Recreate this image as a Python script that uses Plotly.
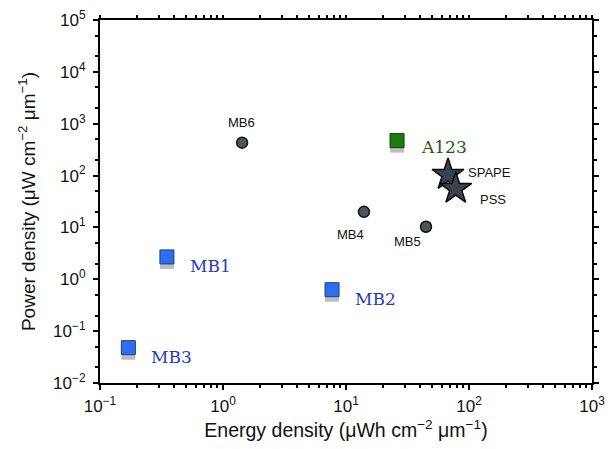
import math
import plotly.graph_objects as go

# ---- data ----
sq_names = ["MB1", "MB2", "MB3"]
sq_energy = [0.35, 7.7, 0.17]
sq_power = [2.7, 0.63, 0.048]

a123_names = ["A123"]
a123_energy = [26.0]
a123_power = [472.0]

circ_names = ["MB6", "MB4", "MB5"]
circ_energy = [1.43, 14.0, 44.7]
circ_power = [431.0, 20.0, 10.3]

star_names = ["SPAPE", "PSS"]
star_energy = [67.5, 78.0]
star_power = [104.0, 56.0]

x_tickvals = [0.1, 1, 10, 100, 1000]
x_ticktext = ["10<sup>−1</sup>", "10<sup>0</sup>", "10<sup>1</sup>", "10<sup>2</sup>", "10<sup>3</sup>"]
y_tickvals = [0.01, 0.1, 1, 10, 100, 1000, 10000, 100000]
y_ticktext = ["10<sup>−2</sup>", "10<sup>−1</sup>", "10<sup>0</sup>", "10<sup>1</sup>",
              "10<sup>2</sup>", "10<sup>3</sup>", "10<sup>4</sup>", "10<sup>5</sup>"]

# decade sub-positions for the x minor ticks
x_minor_ticks = [m * 10.0 ** e for e in range(-1, 3) for m in range(2, 10)]
x_top_ticks = [m * 10.0 ** e for e in range(-1, 3) for m in range(1, 10)] + [1000.0]

SANS = "Liberation Sans, Arial, sans-serif"
SERIF = "DejaVu Serif, Liberation Serif, serif"

fig = go.Figure()

shadow = 0.80
fig.add_trace(go.Scatter(x=sq_energy + a123_energy,
                         y=[v * shadow for v in sq_power + a123_power],
                         mode="markers",
                         marker=dict(symbol="square", size=14, color="rgba(165,165,165,0.75)",
                                     line=dict(width=0)),
                         hoverinfo="skip", showlegend=False))
fig.add_trace(go.Scatter(x=sq_energy, y=sq_power, mode="markers",
                         marker=dict(symbol="square", size=14, color="#2f6cf0",
                                     line=dict(width=1, color="#1d3f8a")),
                         showlegend=False))
fig.add_trace(go.Scatter(x=a123_energy, y=a123_power, mode="markers",
                         marker=dict(symbol="square", size=14, color="#1e7a12",
                                     line=dict(width=1, color="#0f3d09")),
                         showlegend=False))
fig.add_trace(go.Scatter(x=circ_energy, y=circ_power, mode="markers",
                         marker=dict(symbol="circle", size=11, color="#505558",
                                     line=dict(width=1.5, color="#111111")),
                         showlegend=False))
fig.add_trace(go.Scatter(x=star_energy, y=star_power, mode="markers",
                         marker=dict(symbol="star", size=24, color="#3b444c",
                                     line=dict(width=1.5, color="#0a0a0a")),
                         showlegend=False))

# invisible trace to activate mirrored axes (top / right)
fig.add_trace(go.Scatter(x=[x_tickvals[0]], y=[y_tickvals[0]], xaxis="x2", yaxis="y2",
                         mode="markers", marker=dict(opacity=0), hoverinfo="skip",
                         showlegend=False))

L = math.log10
ann = []
for n, x, y in zip(sq_names, sq_energy, sq_power):
    ann.append(dict(x=L(x), y=L(y), text=n, xref="x", yref="y", xanchor="left", yanchor="middle",
                    xshift=21, yshift=-9, showarrow=False,
                    font=dict(family=SERIF, size=17, color="#1f3bc4")))
for n, x, y in zip(a123_names, a123_energy, a123_power):
    ann.append(dict(x=L(x), y=L(y), text=n, xref="x", yref="y", xanchor="left", yanchor="middle",
                    xshift=22, yshift=-6, showarrow=False,
                    font=dict(family=SERIF, size=17, color="#1c5a10")))
circ_shift = {"MB6": (-1, 20), "MB4": (-13, -23), "MB5": (-18, -15)}
for n, x, y in zip(circ_names, circ_energy, circ_power):
    dx, dy = circ_shift[n]
    ann.append(dict(x=L(x), y=L(y), text=n, xref="x", yref="y", xanchor="center", yanchor="middle",
                    xshift=dx, yshift=dy, showarrow=False,
                    font=dict(family=SANS, size=13, color="#111111")))
star_shift = {"SPAPE": (18, 2), "PSS": (22, -11)}
for n, x, y in zip(star_names, star_energy, star_power):
    dx, dy = star_shift[n]
    ann.append(dict(x=L(x), y=L(y), text=n, xref="x", yref="y", xanchor="left", yanchor="middle",
                    xshift=dx, yshift=dy, showarrow=False,
                    font=dict(family=SANS, size=13, color="#111111")))

def axis_style(minor=True):
    d = dict(type="log", showgrid=False, zeroline=False, showline=True,
             linecolor="black", linewidth=2, automargin=False,
             ticks="outside", ticklen=5, tickwidth=2, tickcolor="black",
             tickfont=dict(family=SANS, size=17, color="#111111"))
    if minor:
        d["minor"] = dict(ticks="outside", ticklen=3, tickwidth=1.5, tickcolor="black",
                          showgrid=False)
    return d

x_style = axis_style(minor=False)
x_style["minor"] = dict(tickmode="array", tickvals=x_minor_ticks, ticks="outside",
                        ticklen=3, tickwidth=1.5, tickcolor="black", showgrid=False)

top_style = axis_style(minor=False)
top_style.update(ticklen=3, tickwidth=1.5)

fig.update_layout(
    xaxis=dict(range=[-1, 3], tickvals=x_tickvals, ticktext=x_ticktext, ticklabelstandoff=2,
               title=dict(text="Energy density (μWh cm<sup>−2</sup> μm<sup>−1</sup>)",
                          font=dict(family=SANS, size=19.5, color="#111111"), standoff=8),
               **x_style),
    yaxis=dict(range=[-2, 5], tickvals=y_tickvals, ticktext=y_ticktext, ticklabelstandoff=4,
               title=dict(text="Power density (μW cm<sup>−2</sup> μm<sup>−1</sup>)",
                          font=dict(family=SANS, size=19, color="#111111"), standoff=12),
               **axis_style()),
    xaxis2=dict(range=[-1, 3], overlaying="x", side="top", anchor="y2",
                tickvals=x_top_ticks, showticklabels=False, **top_style),
    yaxis2=dict(range=[-2, 5], overlaying="y", side="right", anchor="x2",
                tickvals=y_tickvals, showticklabels=False, **axis_style()),
    width=611, height=449, margin=dict(l=100, r=19, t=20, b=66),
    plot_bgcolor="white", paper_bgcolor="white", annotations=ann)

fig.write_html("out.html", config={"displayModeBar": False})
